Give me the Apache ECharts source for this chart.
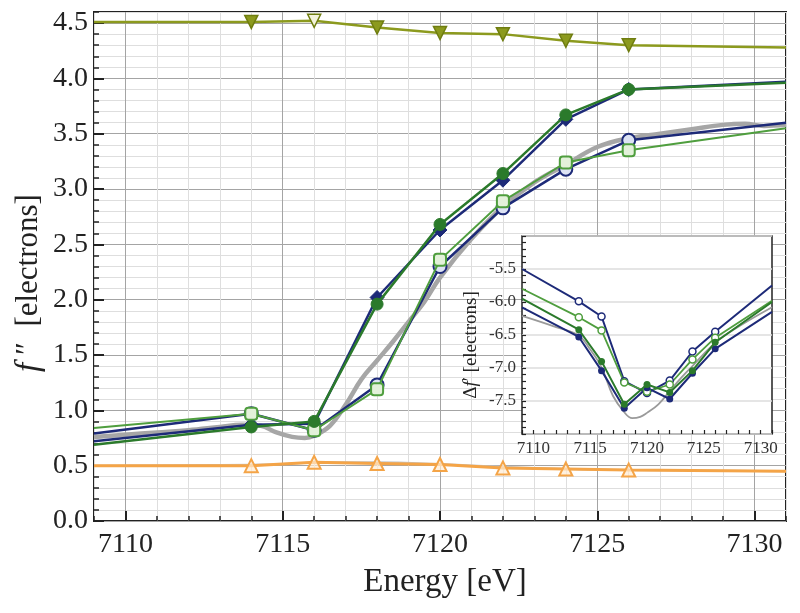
<!DOCTYPE html>
<html><head><meta charset="utf-8">
<script src="https://cdn.jsdelivr.net/npm/echarts@6/dist/echarts.min.js"></script>
<style>html,body{margin:0;padding:0;background:#fff}#c{width:800px;height:613px}</style>
</head><body><div id="c"></div>
<script>
// ---- data ----
const energies = [7109, 7114, 7116, 7118, 7120, 7122, 7124, 7126, 7131];
const fppNavyFilled  = [0.72, 0.87, 0.88, 2.02, 2.63, 3.08, 3.63, 3.90, 3.97];
const fppGreenFilled = [0.69, 0.85, 0.90, 1.96, 2.68, 3.14, 3.67, 3.90, 3.96];
const fppNavyOpen    = [0.79, 0.97, 0.82, 1.23, 2.30, 2.83, 3.18, 3.44, 3.60];
const fppGreenOpen   = [0.84, 0.97, 0.82, 1.19, 2.36, 2.89, 3.24, 3.35, 3.55];
const fppOlive       = [4.51, 4.51, 4.52, 4.46, 4.41, 4.40, 4.34, 4.30, 4.28];
const fppOrange      = [0.50, 0.50, 0.53, 0.52, 0.51, 0.48, 0.47, 0.46, 0.45];

const theoryE = [7109,7110,7111,7112,7113,7113.7,7114.3,7114.8,7115.3,7115.7,7116,7116.5,7117,7117.5,7118,7118.5,7119,7119.5,7120,7121,7122,7123,7124,7125,7126,7127,7128,7129,7129.7,7130.3,7131];
const theoryF = [0.76,0.78,0.80,0.82,0.85,0.87,0.86,0.80,0.76,0.75,0.77,0.86,1.05,1.28,1.45,1.62,1.80,1.98,2.20,2.55,2.84,3.06,3.22,3.38,3.46,3.50,3.54,3.58,3.59,3.57,3.58];
const lowTheoryE = [7109,7113,7115,7116.5,7118,7120,7122,7124,7126,7131];
const lowTheoryF = [0.50,0.505,0.515,0.53,0.53,0.515,0.49,0.47,0.46,0.45];

const dfNavyOpen    = [-5.50, -5.99, -6.22, -7.20, -7.38, -7.19, -6.75, -6.45, -5.75];
const dfGreenOpen   = [-5.80, -6.23, -6.43, -7.22, -7.36, -7.25, -6.87, -6.54, -5.98];
const dfGreenFilled = [-5.95, -6.42, -6.90, -7.55, -7.25, -7.37, -7.04, -6.61, -6.00];
const dfNavyFilled  = [-6.08, -6.53, -7.04, -7.61, -7.30, -7.47, -7.08, -6.71, -6.15];
const dfTheoryE = [7109,7112,7114,7115,7116,7117,7118,7118.7,7119.4,7120,7121,7122,7123,7124,7126,7128,7131];
const dfTheoryV = [-6.21,-6.38,-6.51,-6.72,-6.99,-7.42,-7.67,-7.76,-7.74,-7.68,-7.55,-7.35,-7.15,-6.97,-6.62,-6.38,-6.08];

const xTickLabels = [7110, 7115, 7120, 7125, 7130];
const yTickLabels = [0.0, 0.5, 1.0, 1.5, 2.0, 2.5, 3.0, 3.5, 4.0, 4.5];
const insetYTickLabels = [-7.5, -7.0, -6.5, -6.0, -5.5];

// ---- helpers ----
const SERIF = '"Liberation Serif","DejaVu Serif",serif';
function measured(E, V, hollowIdx, hollowFill) {
  return E.map((x, i) => {
    if (i === 0 || i === E.length - 1) return { value: [x, V[i]], symbol: 'none' };
    if (hollowIdx === i) return { value: [x, V[i]], itemStyle: { color: hollowFill } };
    return [x, V[i]];
  });
}
function pairs(E, V) { return E.map((x, i) => [x, V[i]]); }
const isIn = (arr, v) => arr.some(a => Math.abs(a - v) < 1e-6);

const navy = '#1d2a78', dgreen = '#2b7a2b', lgreen = '#4f9e3e', gray = '#a6a6a6',
      orange = '#f4a447', olive = '#8c9a1e';
const majorGrid = '#a4a4a4', minorGrid = '#dedede';

const chart = echarts.init(document.getElementById('c'), null, { renderer: 'canvas' });
chart.setOption({
  animation: false,
  backgroundColor: '#fff',
  grid: [
    { left: 94, top: 12, width: 692, height: 509, show: true, borderColor: '#222', borderWidth: 2, backgroundColor: 'transparent', z: 0 },
    { left: 522, top: 236, width: 250, height: 198, show: true, borderColor: '#222', borderWidth: 1.5, backgroundColor: '#fff', z: 3 }
  ],
  xAxis: [
    { gridIndex: 0, type: 'value', min: 7109, max: 7131, interval: 1,
      axisLine: { show: false },
      axisTick: { show: true, inside: true, length: 5, lineStyle: { color: '#222', width: 1.5 } },
      axisLabel: { interval: 0, margin: 10, fontFamily: SERIF, fontSize: 28, color: '#222',
        formatter: v => isIn(xTickLabels, v) ? String(Math.round(v)) : '' },
      splitLine: { show: true, lineStyle: { color: [minorGrid, majorGrid, minorGrid, minorGrid, minorGrid], width: 1 } } },
    { gridIndex: 0, type: 'value', min: 7109, max: 7131, interval: 1, position: 'bottom',
      axisLine: { show: false },
      axisTick: { show: true, inside: true, length: 10, customValues: xTickLabels, lineStyle: { color: '#222', width: 2 } },
      axisLabel: { show: false }, splitLine: { show: false } },
    { gridIndex: 1, type: 'value', min: 7109, max: 7131, interval: 1, z: 4,
      axisLine: { show: false },
      axisTick: { show: true, inside: true, length: 4, lineStyle: { color: '#222', width: 1.2 } },
      axisLabel: { interval: 0, margin: 6, fontFamily: SERIF, fontSize: 17, color: '#333',
        formatter: v => isIn(xTickLabels, v) ? String(Math.round(v)) : '' },
      splitLine: { show: false } }
  ],
  yAxis: [
    { gridIndex: 0, type: 'value', min: 0, max: 4.6, interval: 0.1,
      axisLine: { show: false },
      axisTick: { show: true, inside: true, length: 5, lineStyle: { color: '#222', width: 1.5 } },
      axisLabel: { interval: 0, margin: 6, fontFamily: SERIF, fontSize: 28, color: '#222',
        formatter: v => isIn(yTickLabels, v) ? v.toFixed(1) : '' },
      splitLine: { show: true, lineStyle: { color: [majorGrid, minorGrid, minorGrid, minorGrid, minorGrid], width: 1 } } },
    { gridIndex: 0, type: 'value', min: 0, max: 4.6, interval: 0.1, position: 'left',
      axisLine: { show: false },
      axisTick: { show: true, inside: true, length: 10, customValues: yTickLabels, lineStyle: { color: '#222', width: 2 } },
      axisLabel: { show: false }, splitLine: { show: false } },
    { gridIndex: 1, type: 'value', min: -8, max: -5, interval: 0.1, z: 4,
      axisLine: { show: false },
      axisTick: { show: true, inside: true, length: 4, lineStyle: { color: '#222', width: 1.2 } },
      axisLabel: { interval: 0, margin: 6, fontFamily: SERIF, fontSize: 17, color: '#333',
        formatter: v => isIn(insetYTickLabels, v) ? v.toFixed(1) : '' },
      splitLine: { show: true, lineStyle: { color: ['#dcdcdc', 'rgba(0,0,0,0)', 'rgba(0,0,0,0)', 'rgba(0,0,0,0)', 'rgba(0,0,0,0)'], width: 1.5 } } }
  ],
  graphic: [
    { type: 'text', x: 29, y: 283, rotation: Math.PI / 2, z: 10,
      style: { text: '{i|f}{n| ″  [electrons]}', textAlign: 'center', textVerticalAlign: 'middle',
        rich: { i: { fontFamily: SERIF, fontSize: 33, fontStyle: 'italic', fill: '#222' },
                n: { fontFamily: SERIF, fontSize: 31, fill: '#222' } } } },
    { type: 'text', x: 445, y: 582, z: 10,
      style: { text: 'Energy [eV]', fontFamily: SERIF, fontSize: 33, fill: '#222', textAlign: 'center', textVerticalAlign: 'middle' } },
    { type: 'text', x: 471, y: 345, rotation: Math.PI / 2, z: 10,
      style: { text: '{n|Δ}{i|f}{n|′ [electrons]}', textAlign: 'center', textVerticalAlign: 'middle',
        rich: { i: { fontFamily: SERIF, fontSize: 19, fontStyle: 'italic', fill: '#222' },
                n: { fontFamily: SERIF, fontSize: 19, fill: '#222' } } } }
  ],
  series: [
    { type: 'line', xAxisIndex: 0, yAxisIndex: 0, data: pairs(lowTheoryE, lowTheoryF), smooth: true, symbol: 'none',
      lineStyle: { color: '#c4c4c4', width: 2 }, z: 2 },
    { type: 'line', xAxisIndex: 0, yAxisIndex: 0, data: measured(energies, fppOrange), symbol: 'triangle', symbolSize: 13,
      lineStyle: { color: orange, width: 3 }, itemStyle: { color: 'rgba(255,235,210,0.7)', borderColor: orange, borderWidth: 2 }, z: 3 },
    { type: 'line', xAxisIndex: 0, yAxisIndex: 0, data: measured(energies, fppOlive, 2, '#f3f3dc'), symbol: 'triangle', symbolRotate: 180, symbolSize: 13,
      lineStyle: { color: olive, width: 2.5 }, itemStyle: { color: olive, borderColor: '#6f7d10', borderWidth: 1.5 }, z: 3 },
    { type: 'line', xAxisIndex: 0, yAxisIndex: 0, data: pairs(theoryE, theoryF), smooth: 0.4, symbol: 'none',
      lineStyle: { color: gray, width: 4.5 }, z: 2 },
    { type: 'line', xAxisIndex: 0, yAxisIndex: 0, data: measured(energies, fppNavyOpen), symbol: 'circle', symbolSize: 13,
      lineStyle: { color: navy, width: 2.5 }, itemStyle: { color: '#dde3f4', borderColor: navy, borderWidth: 2 }, z: 3 },
    { type: 'line', xAxisIndex: 0, yAxisIndex: 0, data: measured(energies, fppGreenOpen), symbol: 'roundRect', symbolSize: 12,
      lineStyle: { color: lgreen, width: 2 }, itemStyle: { color: '#e3f1da', borderColor: lgreen, borderWidth: 2 }, z: 4 },
    { type: 'line', xAxisIndex: 0, yAxisIndex: 0, data: measured(energies, fppNavyFilled), symbol: 'diamond', symbolSize: 14,
      lineStyle: { color: navy, width: 2.5 }, itemStyle: { color: navy, borderColor: navy }, z: 3 },
    { type: 'line', xAxisIndex: 0, yAxisIndex: 0, data: measured(energies, fppGreenFilled), symbol: 'circle', symbolSize: 12,
      lineStyle: { color: dgreen, width: 2.5 }, itemStyle: { color: dgreen, borderColor: dgreen }, z: 4 },

    { type: 'line', xAxisIndex: 2, yAxisIndex: 2, data: pairs(dfTheoryE, dfTheoryV), smooth: 0.4, symbol: 'none',
      lineStyle: { color: '#9a9a9a', width: 1.8 }, z: 5 },
    { type: 'line', xAxisIndex: 2, yAxisIndex: 2, data: measured(energies, dfNavyOpen), symbol: 'circle', symbolSize: 7,
      lineStyle: { color: navy, width: 2 }, itemStyle: { color: '#fff', borderColor: navy, borderWidth: 1.5 }, z: 6 },
    { type: 'line', xAxisIndex: 2, yAxisIndex: 2, data: measured(energies, dfGreenOpen), symbol: 'circle', symbolSize: 7,
      lineStyle: { color: lgreen, width: 1.8 }, itemStyle: { color: '#fff', borderColor: lgreen, borderWidth: 1.5 }, z: 6 },
    { type: 'line', xAxisIndex: 2, yAxisIndex: 2, data: measured(energies, dfNavyFilled), symbol: 'circle', symbolSize: 7,
      lineStyle: { color: navy, width: 2 }, itemStyle: { color: navy }, z: 6 },
    { type: 'line', xAxisIndex: 2, yAxisIndex: 2, data: measured(energies, dfGreenFilled), symbol: 'circle', symbolSize: 7,
      lineStyle: { color: dgreen, width: 2 }, itemStyle: { color: dgreen }, z: 7 }
  ]
});
</script></body></html>
